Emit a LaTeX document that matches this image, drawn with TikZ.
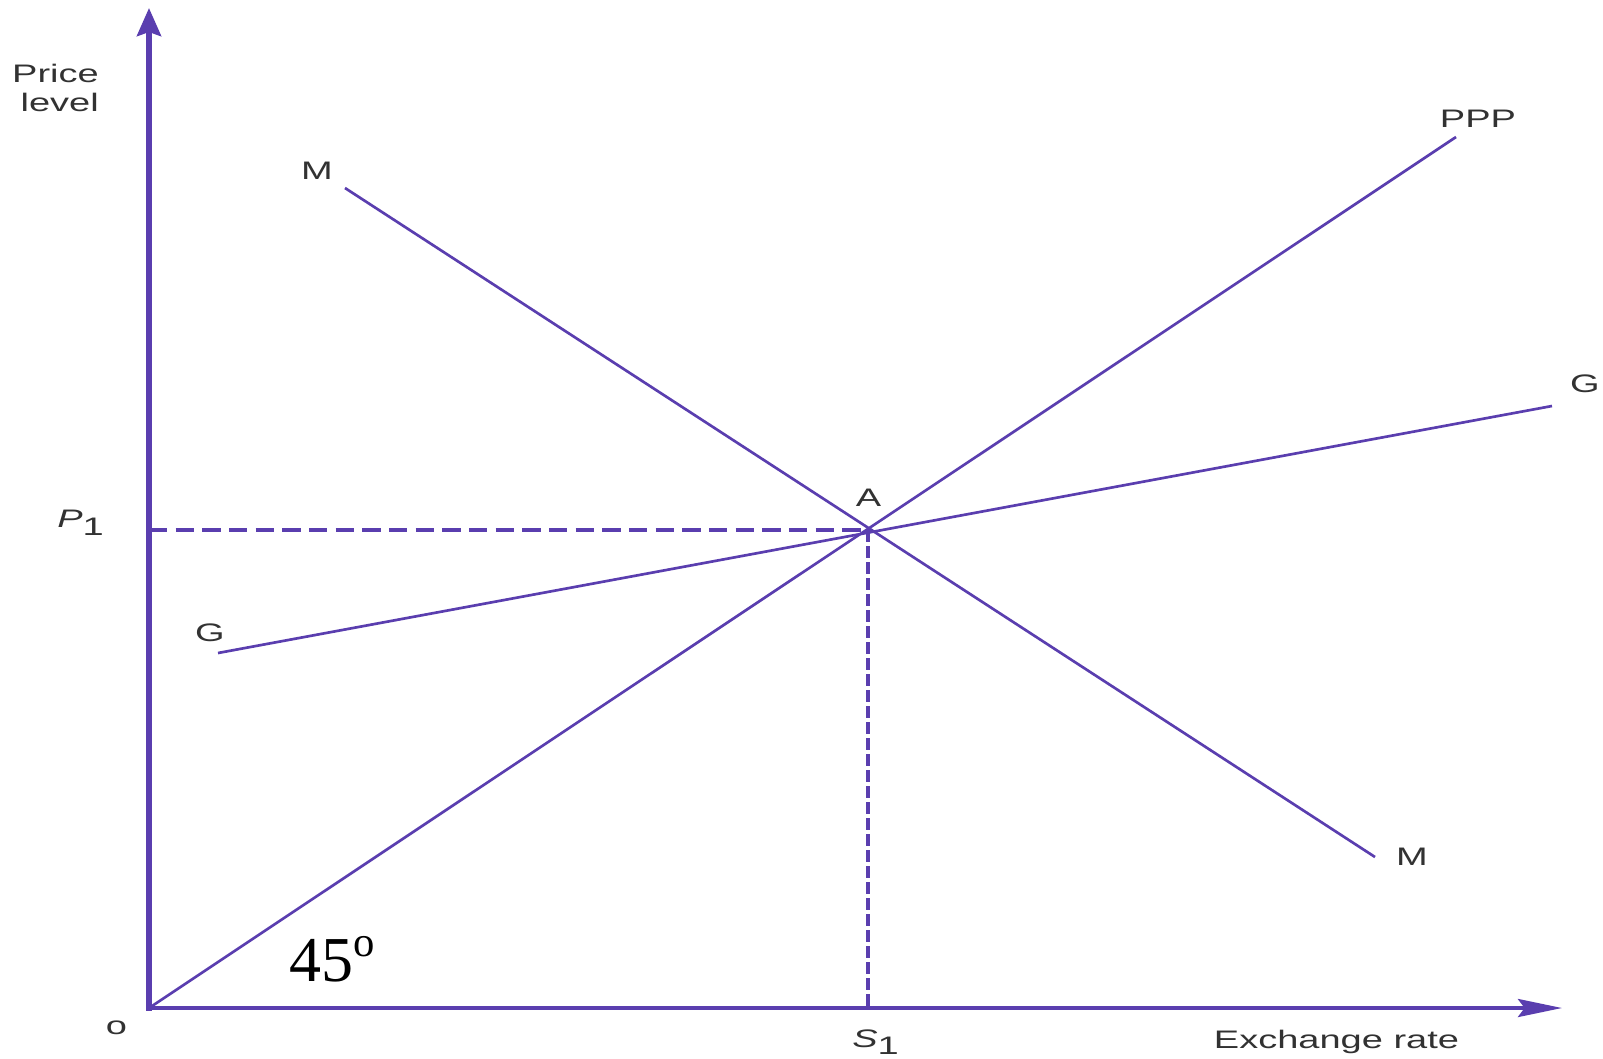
\documentclass[tikz,border=0pt]{standalone}
\usepackage{fontspec}
\usepackage{graphicx}
\setmainfont{Liberation Sans}
\newfontfamily\serfont{Liberation Serif}
\usetikzlibrary{arrows.meta}
\definecolor{linecol}{RGB}{90,62,175}
\definecolor{txtcol}{RGB}{50,50,50}
\newcommand{\stretchtxt}[1]{\scalebox{1.5}[1]{#1}}
\begin{document}
\begin{tikzpicture}[x=0.75pt,y=-0.75pt,
  lab/.style={text=txtcol, font=\fontsize{19}{22}\selectfont, inner sep=0pt, anchor=base},
  curve/.style={draw=linecol, line width=2pt},
  hguide/.style={draw=linecol, line width=2.6pt, dash pattern=on 13.7pt off 6.3pt},
  vguide/.style={draw=linecol, line width=3.6pt, dash pattern=on 9pt off 3pt},
  yaxis/.style={draw=linecol, line width=4pt, -{Stealth[length=21pt,width=18pt,inset=3pt]}},
  xaxis/.style={draw=linecol, line width=3pt, -{Stealth[length=33pt,width=13.5pt,inset=5pt]}}]
\useasboundingbox (0,0) rectangle (1603,1058);
% key points
\coordinate (O) at (149,1008);
\coordinate (A) at (868,530);
\coordinate (Ybot) at (149,1010.5);
\coordinate (Xleft) at (146.5,1008);
\coordinate (Ytip) at (149,8);
\coordinate (Xtip) at (1562,1008);
\coordinate (Pc) at (149,530);
\coordinate (Sc) at (868,1008);
\coordinate (PPPend) at (1456,137);
\coordinate (Ms) at (345,188);
\coordinate (Me) at (1375,857);
\coordinate (Gs) at (218,653);
\coordinate (Ge) at (1552,406);
% guides
\draw[hguide] (Pc) -- (A);
\draw[vguide] (A) -- (Sc);
% curves
\draw[curve] (O) -- (PPPend);
\draw[curve] (Ms) -- (Me);
\draw[curve] (Gs) -- (Ge);
% axes
\draw[yaxis] (Ybot) -- (Ytip);
\draw[xaxis] (Xleft) -- (Xtip);
% labels
\node[lab, anchor=base east] (price) at (99,82) {\stretchtxt{Price}};
\node[lab, anchor=base east] (level) at (99,111) {\stretchtxt{level}};
\node[lab] (mtop) at (317,179) {\stretchtxt{M}};
\node[lab] (mbot) at (1412,865) {\stretchtxt{M}};
\node[lab] (ppp) at (1478,127) {\stretchtxt{PPP}};
\node[lab] (gright) at (1585,392) {\stretchtxt{G}};
\node[lab] (gleft) at (210,641) {\stretchtxt{G}};
\node[lab] (alab) at (868.5,506) {\stretchtxt{A}};
\node[lab, anchor=base west] (plab) at (57,527) {\stretchtxt{{\itshape P}\raisebox{-6pt}{1}}};
\node[lab, anchor=base west] (slab) at (852,1047) {\stretchtxt{{\itshape S}\raisebox{-5.25pt}{1}}};
\node[lab] (olab) at (116.5,1034) {\stretchtxt{o}};
\node[lab] (xlab) at (1336.5,1048) {\stretchtxt{Exchange rate}};
\node[inner sep=0pt, anchor=base west, font=\serfont\fontsize{48}{50}\selectfont] (deg) at (289,981) {45\raisebox{18.5pt}{\fontsize{32}{34}\selectfont o}};
\end{tikzpicture}
\end{document}
